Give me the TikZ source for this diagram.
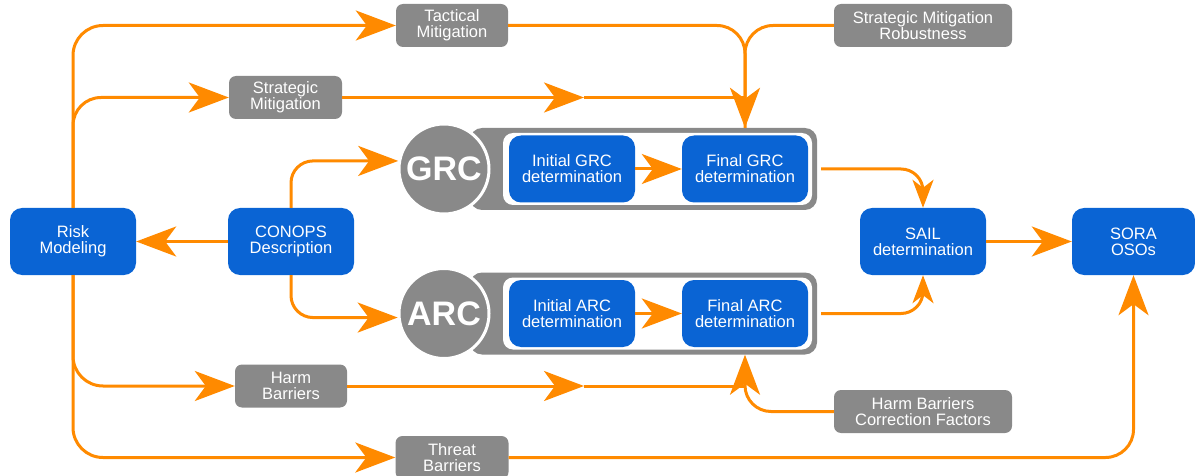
\documentclass[tikz,border=0pt]{standalone}
\usepackage{fontspec}
\setmainfont{Liberation Sans}
\usetikzlibrary{arrows.meta,calc}

\definecolor{sorablue}{HTML}{0A64D4}
\definecolor{sgray}{HTML}{898989}
\definecolor{sorange}{HTML}{FF8A00}

\begin{document}
\begin{tikzpicture}[x=1pt,y=-1pt,
  lbl/.style={text=white, align=center, inner sep=0pt, font=\fontsize{16.5}{16}\selectfont},
  blk/.style={lbl, fill=sorablue, rounded corners=12pt, minimum width=126pt, minimum height=67pt},
  gbox/.style={lbl, fill=sgray, rounded corners=7pt, minimum height=43pt},
  frame/.style={fill=sgray, rounded corners=12pt, minimum width=347pt, minimum height=82pt, inner sep=0pt},
  frameinner/.style={fill=white, rounded corners=10pt, minimum width=309pt, minimum height=72pt, inner sep=0pt},
  badge/.style={circle, fill=sgray, draw=white, line width=3pt, minimum size=90pt, inner sep=0pt,
    text=white, font=\fontsize{34}{34}\selectfont\bfseries},
  wire/.style={draw=sorange, line width=3pt},
  conn/.style={wire, -{Stealth[length=40pt,width=30pt,inset=11pt]}},
  connsmall/.style={wire, -{Stealth[length=28pt,width=21pt,inset=8pt]}}
]
\useasboundingbox (0,0) rectangle (1195,476);

% ---- left column
\node[blk] (RM) at (73,241.5) {Risk\\Modeling};
\node[blk] (CON) at (291,241.5) {CONOPS\\Description};

% ---- mitigations and barriers
\node[gbox, minimum width=112pt] (TM) at (452,25.5) {Tactical\\Mitigation};
\node[gbox, minimum width=113pt] (SM) at (285.5,97.5) {Strategic\\Mitigation};
\node[gbox, minimum width=178pt] (SMR) at (923,25.5) {Strategic Mitigation\\Robustness};
\node[gbox, minimum width=112pt] (HB) at (291,386) {Harm\\Barriers};
\node[gbox, minimum width=178pt] (HBCF) at (923,411.5) {Harm Barriers\\Correction Factors};
\node[gbox, minimum width=113pt] (TB) at (452,457.5) {Threat\\Barriers};

% ---- GRC group
\node[frame] (GRCcont) at (643.5,169) {};
\node[frameinner] (GRCin) at (657.5,169) {};
\node[blk] (IG) at (572,169) {Initial GRC\\determination};
\node[blk] (FG) at (745,169) {Final GRC\\determination};
\node[badge] (GRCc) at (444,169) {GRC};

% ---- ARC group
\node[frame] (ARCcont) at (643.5,313.5) {};
\node[frameinner] (ARCin) at (657.5,313.5) {};
\node[blk] (IA) at (572,313.5) {Initial ARC\\determination};
\node[blk] (FA) at (745,313.5) {Final ARC\\determination};
\node[badge] (ARCc) at (444,313.5) {ARC};

% ---- right column
\node[blk] (SAIL) at (923,241.5) {SAIL\\determination};
\node[blk, minimum width=123pt] (SORA) at (1133.5,241.5) {SORA\\OSOs};

% ---- junction points
\coordinate (GRCtop) at (FG.north |- GRCcont.north);
\coordinate (ARCbot) at (FA.south |- ARCcont.south);
\coordinate (SMmid) at (584,97.5);
\coordinate (HBmid) at (584,386);

% ---- connectors from risk modeling
\draw[conn, rounded corners=30pt] (RM.north) |- (TM.west);
\draw[conn, rounded corners=28pt] (RM.north) |- (SM.west);
\draw[conn, rounded corners=30pt] (RM.south) |- (HB.west);
\draw[conn, rounded corners=30pt] (RM.south) |- (TB.west);

% ---- mitigations into the GRC group
\draw[conn, rounded corners=28pt] (TM.east) -| (GRCtop);
\draw[wire, rounded corners=28pt] (SMR.west) -| (GRCtop);
\draw[conn] (SM.east) -- (SMmid);
\draw[wire] (SMmid) -- (SMmid -| GRCtop);

% ---- barriers into the ARC group
\draw[conn, rounded corners=26pt] (HBCF.west) -| (ARCbot);
\draw[conn] (HB.east) -- (HBmid);
\draw[wire] (HBmid) -- (HBmid -| ARCbot);

% ---- CONOPS
\draw[conn] (CON.west) -- (RM.east);
\draw[conn, rounded corners=22pt] (CON.north) |- (GRCc.170);
\draw[conn, rounded corners=22pt] (CON.south) |- (ARCc.185);

% ---- inside the groups
\draw[conn] (IG.east) -- (FG.west);
\draw[conn] (IA.east) -- (FA.west);

% ---- towards SAIL and SORA
\draw[connsmall, rounded corners=22pt] ([xshift=4pt]GRCcont.east) -| (SAIL.north);
\draw[connsmall, rounded corners=22pt] ([xshift=4pt]ARCcont.east) -| (SAIL.south);
\draw[conn] (SAIL.east) -- (SORA.west);
\draw[conn, rounded corners=28pt] (TB.east) -| (SORA.south);
\end{tikzpicture}
\end{document}
